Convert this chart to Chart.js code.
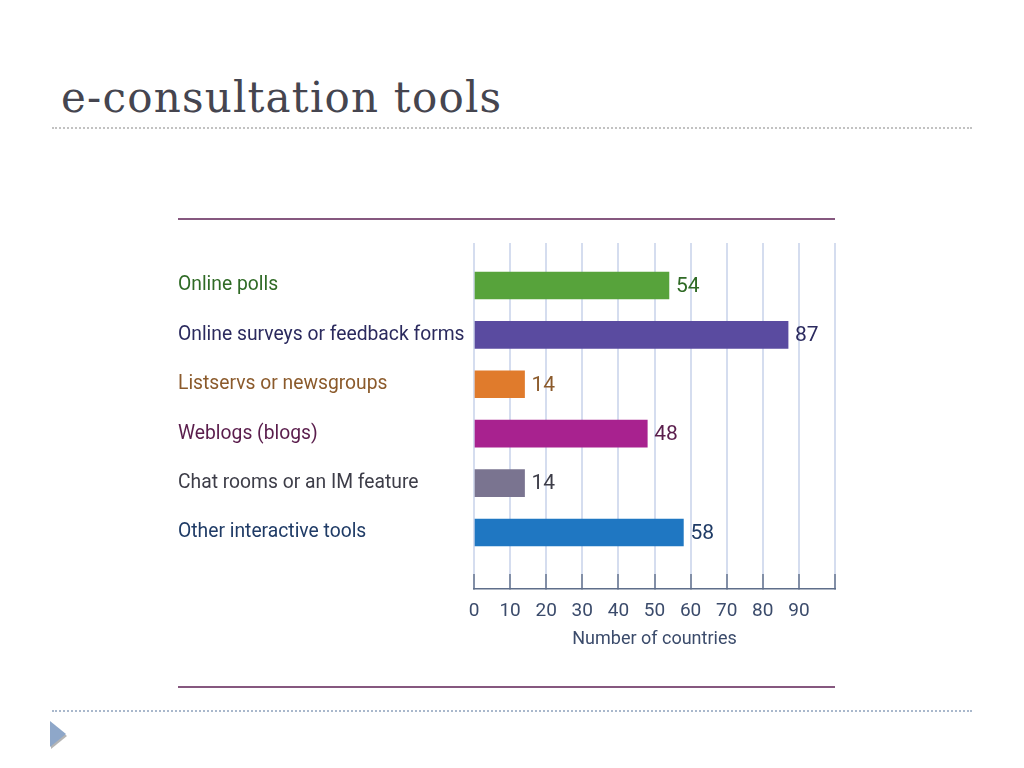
<!DOCTYPE html>
<html>
<head>
<meta charset="utf-8">
<script src="https://cdn.jsdelivr.net/npm/chart.js@4/dist/chart.umd.min.js"></script>
<style>
  html, body { margin: 0; padding: 0; background: #fff; }
  #page { position: relative; width: 1024px; height: 768px; overflow: hidden; }
  #title { position: absolute; left: 61px; top: 77px; font-family: "DejaVu Serif", serif; font-size: 42px; line-height: 42px; color: #45454f; letter-spacing: 1.2px; }
  .dots { position: absolute; left: 52px; width: 920px; height: 0; }
  #dotsTop { top: 127px; border-top: 2px dotted #c2c2c2; }
  #dotsBottom { top: 710px; border-top: 2px dotted #a9b8cc; }
  .rule { position: absolute; left: 178px; width: 657px; height: 2px; background: #86587f; }
  #arrow { position: absolute; left: 50px; top: 721px; width: 16px; height: 26px; background: #8ea7c9;
           clip-path: polygon(0 0, 100% 50%, 0 100%); }
  #arrowShade { position: absolute; left: 51px; top: 723px; width: 16px; height: 26px; background: #6b6b6b;
           clip-path: polygon(0 0, 100% 50%, 0 100%); opacity: 0.5; }
  canvas { position: absolute; left: 0; top: 0; }
</style>
</head>
<body>
<div id="page">
  <div id="title">e-consultation tools</div>
  <div class="dots" id="dotsTop"></div>
  <div class="rule" style="top:218px"></div>
  <div class="rule" style="top:686px"></div>
  <div class="dots" id="dotsBottom"></div>
  <div id="arrowShade"></div>
  <div id="arrow"></div>
  <canvas id="toolsChart" width="1024" height="768"></canvas>
</div>
<script>
// data
const categories = [
    'Online polls',
    'Online surveys or feedback forms',
    'Listservs or newsgroups',
    'Weblogs (blogs)',
    'Chat rooms or an IM feature',
    'Other interactive tools'
];
const countries = [54, 87, 14, 48, 14, 58];
const barColors = ['#57a33b', '#5a4ba0', '#e07b2c', '#a8228f', '#7a7490', '#1f77c2'];
const textColors = ['#2f6a25', '#2b2a5e', '#8b5a2b', '#5a1d4c', '#3d3d48', '#1f3b66'];
const xMax = 100;
const xStep = 10;

const labelFont = 'Roboto, "Noto Sans", sans-serif';

// value labels at the end of each bar
const valueLabels = {
    id: 'valueLabels',
    afterDatasetsDraw(chart) {
        const ctx = chart.ctx;
        const meta = chart.getDatasetMeta(0);
        ctx.save();
        ctx.font = '21px ' + labelFont;
        ctx.textBaseline = 'middle';
        ctx.textAlign = 'left';
        meta.data.forEach((bar, i) => {
            ctx.fillStyle = textColors[i];
            ctx.fillText(countries[i], bar.x + 7, bar.y + 1);
        });
        ctx.restore();
    }
};

const ctx = document.getElementById('toolsChart').getContext('2d');

new Chart(ctx, {
    type: 'bar',
    data: {
        datasets: [{
            data: countries.map((v, i) => ({ x: v, y: i })),
            backgroundColor: barColors,
            borderWidth: 0,
            barThickness: 27
        }]
    },
    options: {
        indexAxis: 'y',
        responsive: false,
        animation: false,
        layout: { padding: { left: 178, right: 189, top: 243, bottom: 117 } },
        plugins: {
            legend: { display: false },
            tooltip: { enabled: false }
        },
        scales: {
            x: {
                type: 'linear',
                min: 0,
                max: xMax,
                ticks: {
                    stepSize: xStep,
                    color: '#3b4b6b',
                    padding: 26,
                    font: { family: labelFont, size: 19 },
                    callback: v => (v === xMax ? '' : v)
                },
                grid: {
                    color: '#d5ddef',
                    lineWidth: 2,
                    tickColor: '#66758f',
                    tickLength: -15,
                    tickWidth: 1.5
                },
                border: { color: '#5f6e8a', width: 1.5 },
                title: {
                    display: true,
                    text: 'Number of countries',
                    color: '#3b4b6b',
                    font: { family: labelFont, size: 18 },
                    padding: { top: 0, bottom: 1 }
                },
                afterFit: scale => { scale.height = 62; }
            },
            y: {
                // linear index axis so the category spacing can match the picture
                type: 'linear',
                reverse: true,
                offset: false,
                min: -0.86,
                max: 6.144,
                afterBuildTicks: scale => {
                    scale.ticks = categories.map((c, i) => ({ value: i }));
                },
                ticks: {
                    crossAlign: 'far',
                    color: c => textColors[c.index],
                    font: { family: labelFont, size: 19.3 },
                    callback: v => categories[v]
                },
                grid: { display: false },
                border: { display: false },
                afterFit: scale => { scale.width = 296; }
            }
        }
    },
    plugins: [valueLabels]
});
</script>
</body>
</html>
